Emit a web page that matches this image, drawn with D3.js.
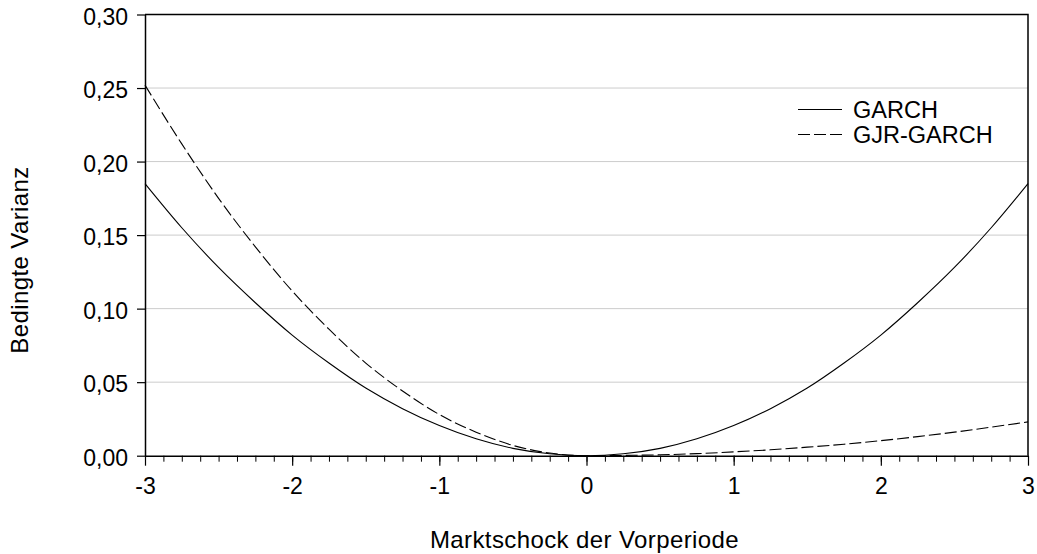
<!DOCTYPE html>
<html>
<head>
<meta charset="utf-8">
<script src="https://cdn.jsdelivr.net/npm/d3@7"></script>
<style>
  body { margin: 0; background: #fff; }
  text { font-family: "Liberation Sans", Arial, sans-serif; fill: #000; }
</style>
</head>
<body>
<div class="chart"></div>
<script>
// values
const shocks = [-3, -2.75, -2.5, -2.25, -2, -1.75, -1.5, -1.25, -1, -0.75, -0.5, -0.25, 0,
                0.25, 0.5, 0.75, 1, 1.25, 1.5, 1.75, 2, 2.25, 2.5, 2.75, 3];
const garch = [0.185, 0.155, 0.128, 0.104, 0.082, 0.063, 0.046, 0.032, 0.0205, 0.0115, 0.005, 0.0013, 0,
               0.0013, 0.005, 0.0115, 0.0205, 0.032, 0.046, 0.063, 0.082, 0.104, 0.128, 0.155, 0.185];
const gjrGarch = [0.252, 0.212, 0.175, 0.142, 0.112, 0.086, 0.063, 0.044, 0.028, 0.016, 0.007, 0.0018, 0,
                  0.0002, 0.0006, 0.0014, 0.0026, 0.004, 0.0058, 0.0078, 0.0102, 0.013, 0.016, 0.0194, 0.023];
const xTicks = [-3, -2, -1, 0, 1, 2, 3];
const yTicks = [0, 0.05, 0.10, 0.15, 0.20, 0.25, 0.30];
const seriesNames = ["GARCH", "GJR-GARCH"];

const margin = {top: 14.5, right: 9, bottom: 98.3, left: 145},
    width = 1037 - margin.left - margin.right,
    height = 554 - margin.top - margin.bottom;

const svg = d3.select(".chart")
  .append("svg")
    .attr("width", 1037)
    .attr("height", 554)
  .append("g")
    .attr("transform", `translate(${margin.left},${margin.top})`);

const x = d3.scaleLinear().domain([-3, 3]).range([0, width]);
const y = d3.scaleLinear().domain([0, 0.30]).range([height, 0]);

const de = d3.formatLocale({decimal: ",", thousands: ".", grouping: [3], currency: ["", "€"]});
const fmt = de.format(".2f");

// gridlines
svg.append("g")
  .selectAll("line")
  .data(yTicks.slice(1, -1))
  .join("line")
    .attr("x1", 0).attr("x2", width)
    .attr("y1", d => y(d)).attr("y2", d => y(d))
    .attr("stroke", "#cccccc")
    .attr("stroke-width", 1);

// frame top + right
svg.append("path")
  .attr("d", `M0,0H${width}V${height}`)
  .attr("fill", "none")
  .attr("stroke", "#000")
  .attr("stroke-width", 1.5);

// minor x ticks
svg.append("g")
  .attr("transform", `translate(0,${height})`)
  .call(d3.axisBottom(x).tickValues(d3.range(-3, 3.001, 0.125)).tickSize(6).tickFormat(""))
  .call(g => g.select(".domain").remove())
  .call(g => g.selectAll("line").attr("stroke", "#000").attr("stroke-width", 1));

// x axis
svg.append("g")
  .attr("transform", `translate(0,${height})`)
  .call(d3.axisBottom(x).tickValues(xTicks).tickSize(10).tickSizeOuter(0).tickFormat(d3.format("d")))
  .call(g => g.select(".domain").attr("stroke", "#000").attr("stroke-width", 1.5))
  .call(g => g.selectAll("line").attr("stroke", "#000").attr("stroke-width", 1.2))
  .call(g => g.selectAll("text")
      .attr("y", 38).attr("dy", 0)
      .style("font-size", "23px")
      .style("font-family", "Liberation Sans, Arial, sans-serif")
      .text(d => d < 0 ? "-" + Math.abs(d) : d));

// y axis
svg.append("g")
  .call(d3.axisLeft(y).tickValues(yTicks).tickSize(8).tickSizeOuter(0).tickFormat(fmt))
  .call(g => g.select(".domain").attr("stroke", "#000").attr("stroke-width", 1.5))
  .call(g => g.selectAll("line").attr("stroke", "#000").attr("stroke-width", 1.2))
  .call(g => g.selectAll("text")
      .attr("x", -17).attr("dy", "0.42em")
      .style("font-size", "23px")
      .style("font-family", "Liberation Sans, Arial, sans-serif"));

// curves
const line = d3.line()
  .x((d, i) => x(shocks[i]))
  .y(d => y(d))
  .curve(d3.curveMonotoneX);

svg.append("path")
  .datum(garch)
  .attr("d", line)
  .attr("fill", "none")
  .attr("stroke", "#000")
  .attr("stroke-width", 1.1);

svg.append("path")
  .datum(gjrGarch)
  .attr("d", line)
  .attr("fill", "none")
  .attr("stroke", "#000")
  .attr("stroke-width", 1.1)
  .attr("stroke-dasharray", "12,4");

// legend
const legend = svg.append("g")
  .attr("transform", `translate(${798 - margin.left},${109.5 - margin.top})`);

seriesNames.forEach((name, i) => {
  const row = legend.append("g").attr("transform", `translate(0,${i * 25})`);
  row.append("line")
    .attr("x1", 0).attr("x2", 44)
    .attr("stroke", "#000")
    .attr("stroke-width", 1.2)
    .attr("stroke-dasharray", i === 1 ? "12,4" : null);
  row.append("text")
    .attr("x", 55)
    .attr("dy", "0.36em")
    .style("font-size", "23.5px")
    .text(name);
});

// axis titles
svg.append("text")
  .attr("x", 584.5 - margin.left)
  .attr("y", 548 - margin.top)
  .attr("text-anchor", "middle")
  .style("font-size", "24px")
  .style("letter-spacing", "0.4px")
  .text("Marktschock der Vorperiode");

svg.append("text")
  .attr("transform", "rotate(-90)")
  .attr("x", -(260 - margin.top))
  .attr("y", 28 - margin.left)
  .attr("text-anchor", "middle")
  .style("font-size", "24px")
  .style("letter-spacing", "0.4px")
  .text("Bedingte Varianz");
</script>
</body>
</html>
